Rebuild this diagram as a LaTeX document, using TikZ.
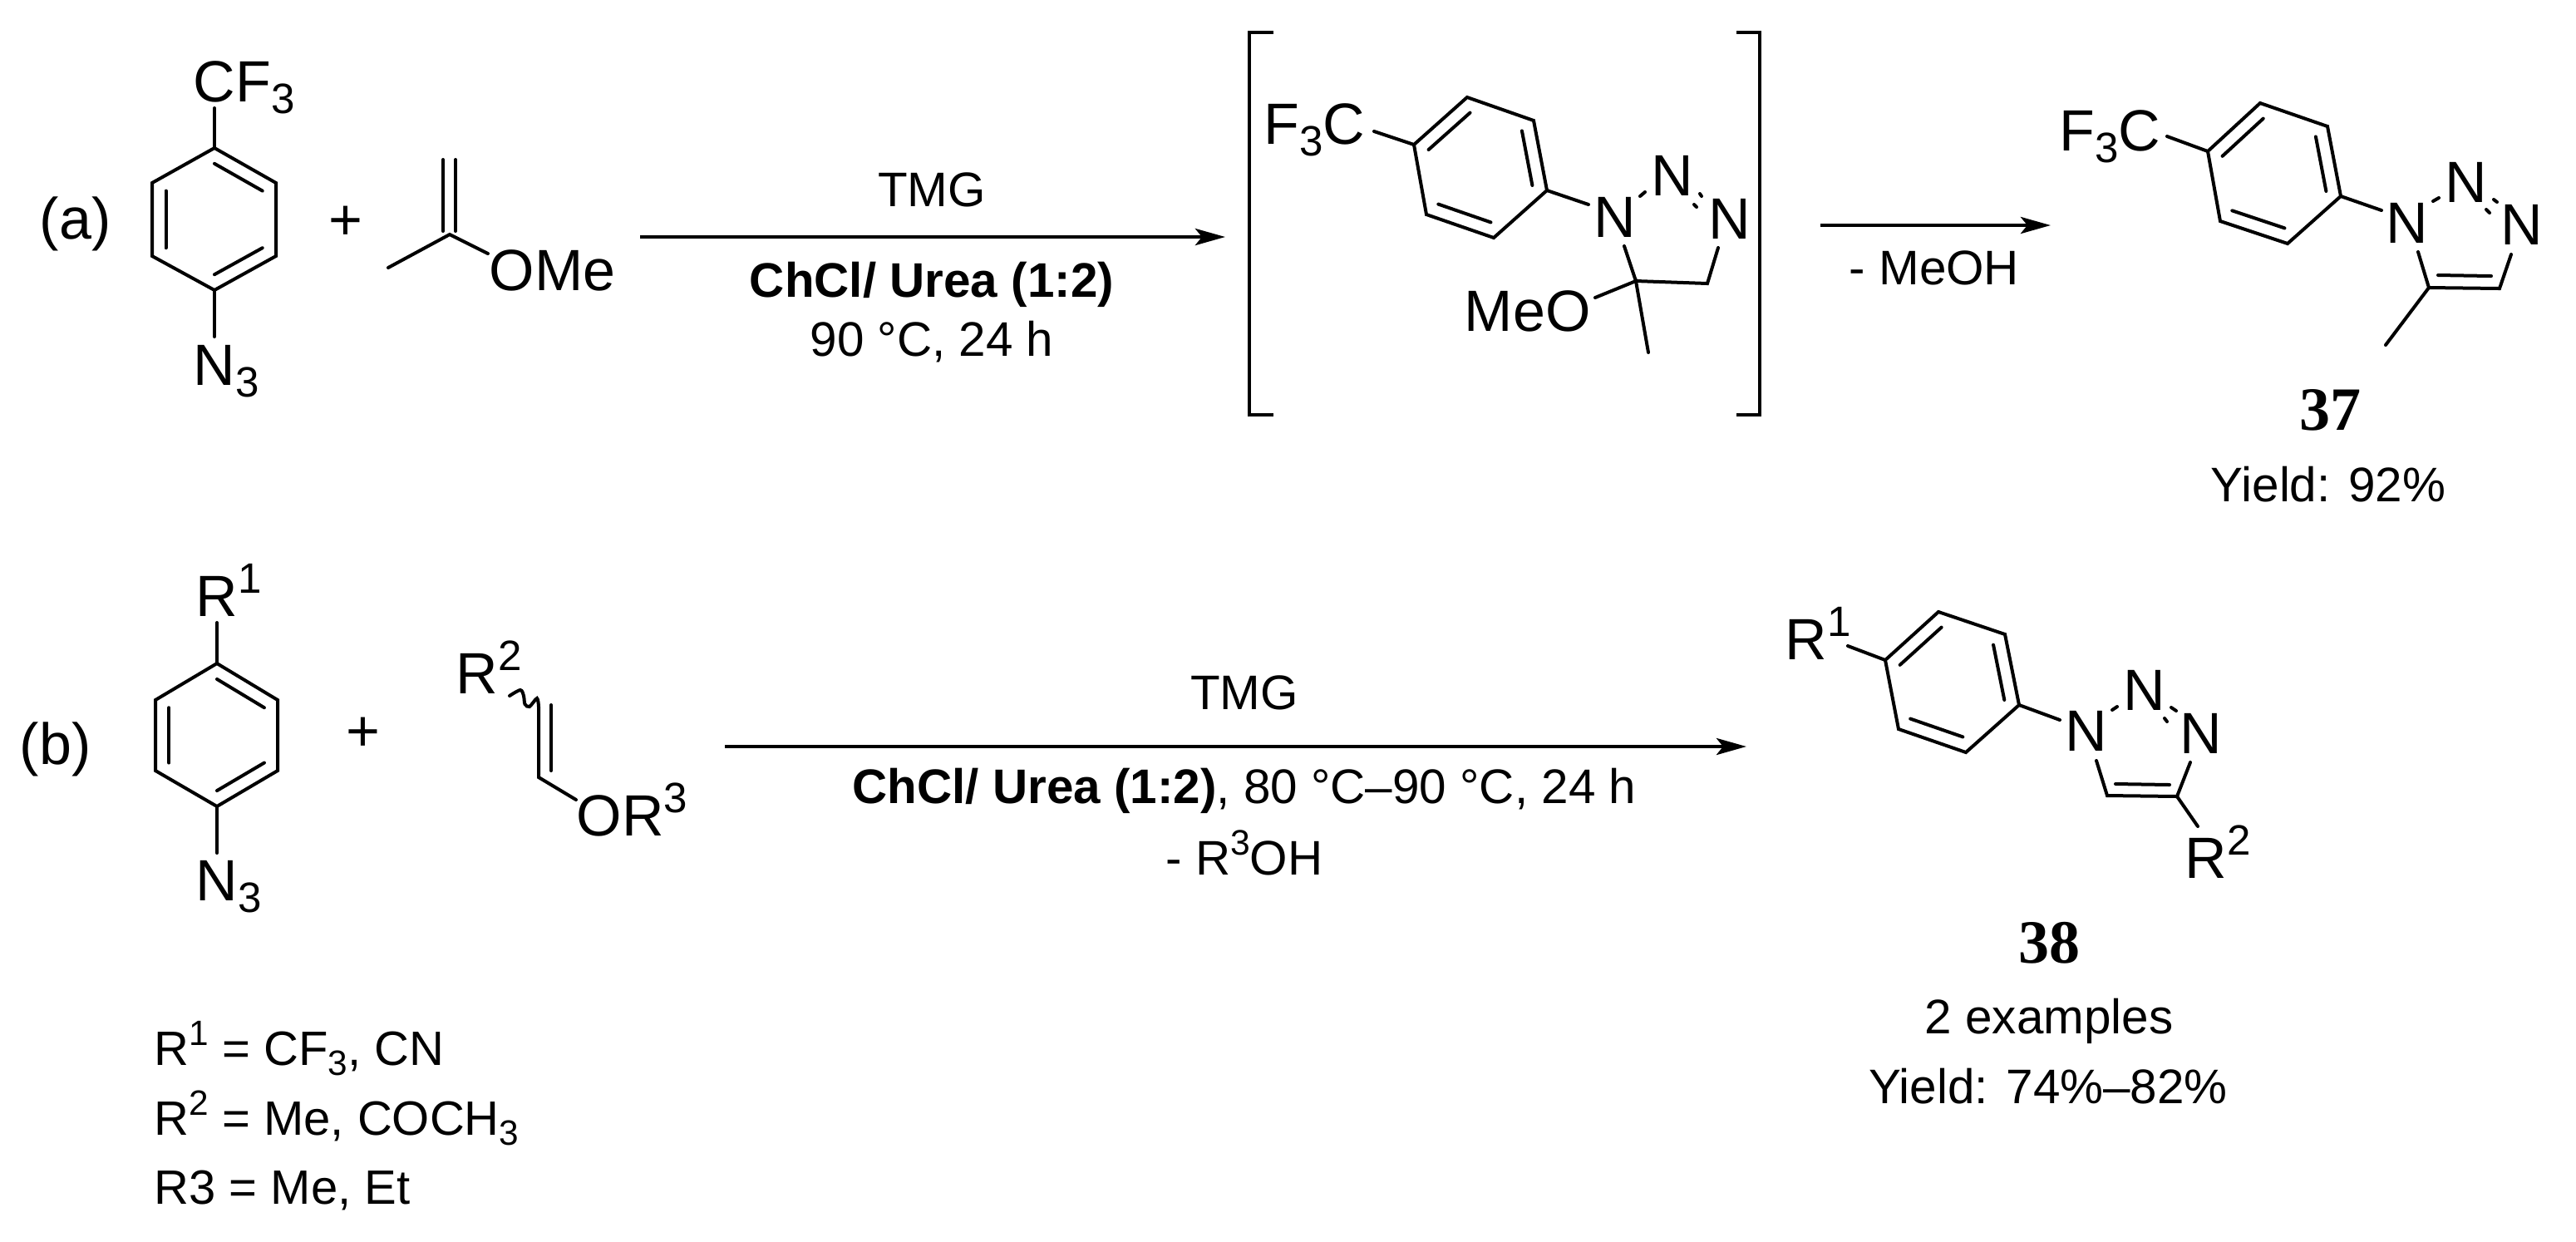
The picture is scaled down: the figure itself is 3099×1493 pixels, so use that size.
\documentclass[tikz,border=0pt]{standalone}
\usepackage{fontspec}
\setmainfont{Liberation Sans}
\newfontfamily\cpdfont{Liberation Serif}
\usetikzlibrary{calc,arrows.meta}
\newcommand{\chemsub}[1]{\raisebox{-.21em}{\scalebox{.73}{#1}}}
\newcommand{\chemsup}[1]{\raisebox{.4em}{\scalebox{.73}{#1}}}
\tikzset{
  bond/.style={line width=1pt,line join=miter,line cap=round},
  rxnarrow/.style={line width=1.15pt,-{Stealth[length=9pt,width=5pt,inset=2pt]}},
  atomlbl/.style={anchor=base west,inner sep=0pt,font=\fontsize{17.5}{21}\selectfont},
  atomn/.style={anchor=base,inner sep=0pt,font=\fontsize{17.5}{21}\selectfont},
  condlbl/.style={anchor=base,inner sep=0pt,font=\fontsize{14.6}{17}\selectfont},
  listlbl/.style={anchor=base west,inner sep=0pt,font=\fontsize{14.5}{17}\selectfont},
  cpdlbl/.style={anchor=base,inner sep=0pt,font=\fontsize{18.5}{22}\cpdfont\bfseries}
}
\begin{document}
\begin{tikzpicture}[x=0.25pt,y=0.25pt,yscale=-1,xscale=1]
\useasboundingbox (0,0) rectangle (3099,1493);

% Ring vertices
\coordinate (ac) at (258,263.5);
\coordinate (a1) at (258,178);
\coordinate (a2) at (332,220);
\coordinate (a3) at (332,308);
\coordinate (a4) at (258,349);
\coordinate (a5) at (183,308);
\coordinate (a6) at (183,220);
\coordinate (ic) at (1781,201.5);
\coordinate (i1) at (1701,174);
\coordinate (i2) at (1765,117);
\coordinate (i3) at (1845,145);
\coordinate (i4) at (1861,229);
\coordinate (i5) at (1797,286);
\coordinate (i6) at (1716,258);
\coordinate (pc) at (2736,208.5);
\coordinate (p1) at (2656,182);
\coordinate (p2) at (2719,124);
\coordinate (p3) at (2800,152);
\coordinate (p4) at (2816,236);
\coordinate (p5) at (2752,293);
\coordinate (p6) at (2671,266);
\coordinate (bc) at (261,884);
\coordinate (b1) at (261,798);
\coordinate (b2) at (334,842);
\coordinate (b3) at (334,927);
\coordinate (b4) at (261,970);
\coordinate (b5) at (187,927);
\coordinate (b6) at (187,842);
\coordinate (cc) at (2348.5,820.5);
\coordinate (c1) at (2268,794);
\coordinate (c2) at (2332,736);
\coordinate (c3) at (2412,763);
\coordinate (c4) at (2429,848);
\coordinate (c5) at (2365,905);
\coordinate (c6) at (2284,877);

% Rings
\foreach \r in {a,i,p,b,c}{
  \draw [bond] (\r1) -- (\r2) -- (\r3) -- (\r4) -- (\r5) -- (\r6) -- cycle;
  \foreach \m/\n in {1/2,3/4,5/6}
    \draw [bond] ($(\r c)!.78!(\r\m)$) -- ($(\r c)!.78!(\r\n)$);
}

% Text Node
\node (tagA) [atomlbl] at (47,287) {(a)};
\node (cfA) [atomlbl] at (232,122) {CF\chemsub{3}};
\node (azA) [atomlbl] at (232,463) {N\chemsub{3}};
\node (plusA) [atomn] at (416,288) {+};
\node (omeA) [atomlbl] at (588,349) {OMe};
\node (cfI) [atomlbl] at (1520,173) {F\chemsub{3}C};
\node (meoI) [atomlbl] at (1761,398) {MeO};
\node (nI1) [atomn] at (1942.5,285) {N};
\node (nI2) [atomn] at (2012,235) {N};
\node (nI3) [atomn] at (2080.5,287) {N};
\node (cfP) [atomlbl] at (2477,181) {F\chemsub{3}C};
\node (nP1) [atomn] at (2896,292) {N};
\node (nP2) [atomn] at (2966.5,243) {N};
\node (nP3) [atomn] at (3034,294) {N};
\node (tagB) [atomlbl] at (23,919) {(b)};
\node (rB) [atomlbl] at (235,741) {R\chemsup{1}};
\node (azB) [atomlbl] at (235,1083) {N\chemsub{3}};
\node (plusB) [atomn] at (437,903) {+};
\node (rtwoB) [atomlbl] at (548,834) {R\chemsup{2}};
\node (orB) [atomlbl] at (693,1005) {OR\chemsup{3}};
\node (rC) [atomlbl] at (2147,793) {R\chemsup{1}};
\node (nC1) [atomn] at (2509.5,903) {N};
\node (nC2) [atomn] at (2579.5,854) {N};
\node (nC3) [atomn] at (2648,906) {N};
\node (rtwoC) [atomlbl] at (2628,1056) {R\chemsup{2}};

% Text Node
\node (tmgA) [condlbl] at (1121,248) {TMG};
\node (desA) [condlbl] at (1121,357) {\bfseries ChCl/ Urea (1:2)};
\node (tempA) [condlbl] at (1121,428) {90 °C, 24 h};
\node (lossA) [condlbl] at (2327,342) {- MeOH};
\node (numA) [cpdlbl] at (2803,517) {37};
\node (yldA) [condlbl] at (2801,603) {Yield: 92\%};
\node (tmgB) [condlbl] at (1497,853) {TMG};
\node (desB) [condlbl] at (1497,966) {\textbf{ChCl/ Urea (1:2)}, 80 °C–90 °C, 24 h};
\node (lossB) [condlbl] at (1497,1052) {- R\chemsup{3}OH};
\node (numB) [cpdlbl] at (2465,1158) {38};
\node (exB) [condlbl] at (2465,1243) {2 examples};
\node (yldB) [condlbl] at (2464,1327) {Yield: 74\%–82\%};
\node (listA) [listlbl] at (185,1281) {R\chemsup{1} = CF\chemsub{3}, CN};
\node (listB) [listlbl] at (185,1365) {R\chemsup{2} = Me, COCH\chemsub{3}};
\node (listC) [listlbl] at (185,1448) {R3 = Me, Et};

%Straight Lines
\coordinate (cfAb) at (258,130);
\coordinate (azAb) at (258,405);
\draw [bond] (cfAb) -- (a1);
\draw [bond] (a4) -- (azAb);

% vinyl ether
\coordinate (vc) at (541,282);
\coordinate (vm) at (467,322);
\coordinate (vo) at (587,305);
\draw [bond] (vm) -- (vc) -- (vo);
\draw [bond] (533,192) -- (533,278);
\draw [bond] (548,192) -- (548,278);

% arrows
\coordinate (arAs) at (770,285);
\coordinate (arAe) at (1474,285);
\coordinate (arIs) at (2190,271);
\coordinate (arIe) at (2467,271);
\coordinate (arBs) at (872,898);
\coordinate (arBe) at (2101,898);
\draw [rxnarrow] (arAs) -- (arAe);
\draw [rxnarrow] (arIs) -- (arIe);
\draw [rxnarrow] (arBs) -- (arBe);

% brackets
\draw [bond,line cap=butt] (1532,39) -- (1503,39) -- (1503,499) -- (1532,499);
\draw [bond,line cap=butt] (2089,39) -- (2117,39) -- (2117,499) -- (2089,499);

% intermediate
\coordinate (iq) at (1968,338);
\coordinate (ir) at (2054,341);
\draw [bond] (1653,158) -- (i1);
\draw [bond] (i4) -- (1911,246);
\draw [bond] (1954,296) -- (iq) -- (ir) -- (2067,298);
\draw [bond] (1919,358) -- (iq) -- (1983,424);
\draw [bond] (1973,236) -- (1979,231);
\draw [bond] (2045,233) -- (2047,236);
\draw [bond] (2038,246) -- (2041,249);

% product 37
\coordinate (pq) at (2922,346);
\coordinate (pr) at (3007,347);
\draw [bond] (2607,164) -- (p1);
\draw [bond] (p4) -- (2865,253);
\draw [bond] (2909,303) -- (pq) -- (pr) -- (3021,306);
\draw [bond] (2933,331) -- (2997,332);
\draw [bond] (pq) -- (2870,415);
\draw [bond] (2927,242) -- (2934,238);
\draw [bond] (3000,240) -- (3004,243);
\draw [bond] (2991,252) -- (2995,256);

% lower left
\coordinate (rBb) at (261,749);
\coordinate (azBb) at (261,1026);
\draw [bond] (rBb) -- (b1);
\draw [bond] (b4) -- (azBb);
\coordinate (ve) at (648,935);
\draw [bond] plot [smooth] coordinates {(613,837) (626,830) (630,837) (631.5,847) (637,850) (646,840) (648,850)};
\draw [bond] (648,850) -- (ve) -- (693,962);
\draw [bond] (663,848) -- (663,927);

% product 38
\coordinate (cq) at (2535,957);
\coordinate (cr) at (2619,958);
\draw [bond] (2223,777) -- (c1);
\draw [bond] (c4) -- (2478,866);
\draw [bond] (2522,915) -- (cq) -- (cr) -- (2635,917);
\draw [bond] (2545,943) -- (2610,944);
\draw [bond] (cr) -- (2644,994);
\draw [bond] (2541,854) -- (2547,850);
\draw [bond] (2612,851) -- (2618,855);
\draw [bond] (2604,864) -- (2607,868);

\end{tikzpicture}
\end{document}
